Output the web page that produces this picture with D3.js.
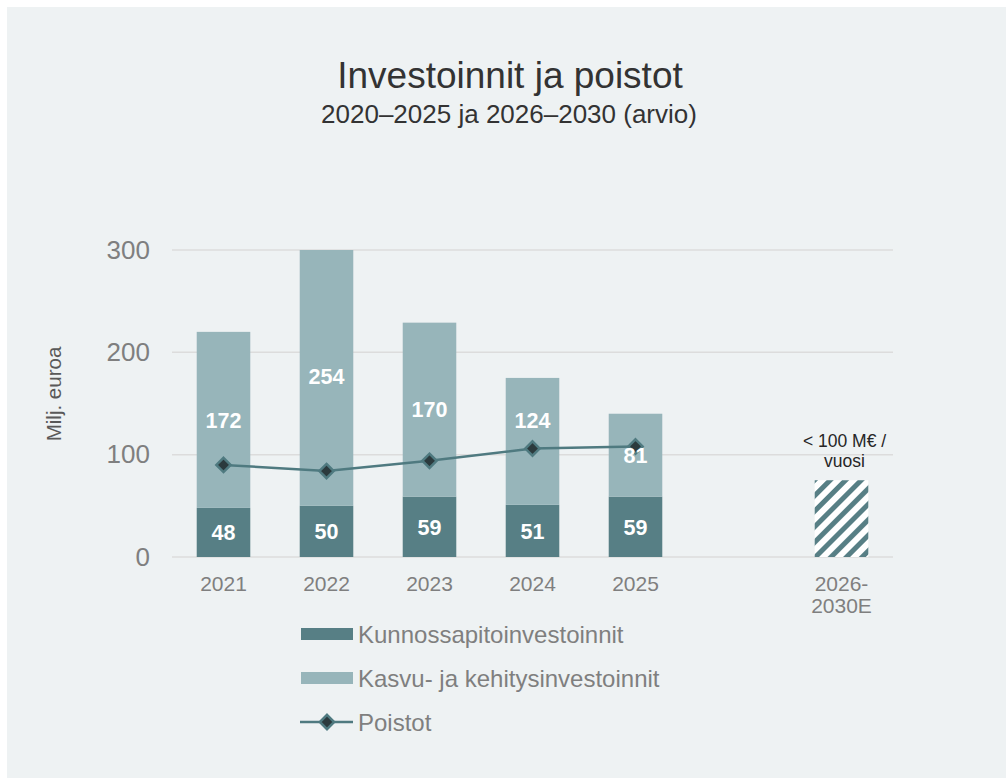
<!DOCTYPE html>
<html>
  <head>
    <meta charset="utf-8">
    <title>Investoinnit ja poistot</title>
    <style>
      body { margin: 0; background: #ffffff; }
      svg { display: block; font-family: "Liberation Sans", Arial, sans-serif; }
    </style>
  </head>
  <body>
    <div id="chart"></div>
    <script src="https://cdn.jsdelivr.net/npm/d3@7"></script>
    <script>
      var categories = ['2021', '2022', '2023', '2024', '2025', '', '2026-2030E'];
      var years = ['2021', '2022', '2023', '2024', '2025'];
      var kunnossapito = [48, 50, 59, 51, 59];
      var kasvu = [172, 254, 170, 124, 81];
      var poistot = [90, 84, 94, 106, 108];
      var estimateCategory = '2026-2030E';
      var estimateValue = 75;
      var estimateLabel = ['< 100 M€ /', 'vuosi'];
      var yTicks = [0, 100, 200, 300];

      (function(d3) {
        'use strict';
        var width = 1006, height = 778;
        var darkColor = '#577f85', lightColor = '#97b5ba', lineColor = '#4f7a80';
        var font = '"Liberation Sans", Arial, sans-serif';

        var svg = d3.select('#chart').append('svg')
          .attr('width', width)
          .attr('height', height);

        svg.append('rect')
          .attr('x', 7).attr('y', 7)
          .attr('width', width - 7).attr('height', height - 7)
          .attr('fill', '#eef2f3');

        var defs = svg.append('defs');
        var pat = defs.append('pattern')
          .attr('id', 'hatch')
          .attr('patternUnits', 'userSpaceOnUse')
          .attr('width', 11).attr('height', 11)
          .attr('patternTransform', 'rotate(45)');
        pat.append('rect').attr('width', 11).attr('height', 11).attr('fill', '#ffffff');
        pat.append('rect').attr('width', 5).attr('height', 11).attr('fill', darkColor);

        var plot = { left: 172, right: 893, top: 250, bottom: 557 };

        defs.append('clipPath').attr('id', 'plotclip')
          .append('rect')
          .attr('x', plot.left).attr('y', plot.top)
          .attr('width', plot.right - plot.left)
          .attr('height', plot.bottom - plot.top + 1);

        svg.append('text')
          .attr('x', 510).attr('y', 88)
          .attr('text-anchor', 'middle')
          .attr('font-size', 37)
          .attr('fill', '#333333')
          .text('Investoinnit ja poistot');
        svg.append('text')
          .attr('x', 509).attr('y', 123)
          .attr('text-anchor', 'middle')
          .attr('font-size', 26)
          .attr('fill', '#333333')
          .text('2020–2025 ja 2026–2030 (arvio)');

        var x = d3.scaleBand()
          .domain(categories)
          .range([plot.left, plot.right])
          .paddingInner(0.48)
          .paddingOuter(0.24);

        var y = d3.scaleLinear()
          .domain([0, 300])
          .range([plot.bottom, plot.top]);

        // gridlines
        svg.append('g')
          .selectAll('line')
          .data(yTicks)
          .enter().append('line')
          .attr('x1', plot.left).attr('x2', plot.right)
          .attr('y1', function(d) { return y(d); })
          .attr('y2', function(d) { return y(d); })
          .attr('stroke', '#dcdcdc')
          .attr('stroke-width', 1.5);

        var yAxis = svg.append('g')
          .attr('transform', 'translate(150,0)')
          .call(d3.axisLeft(y).tickValues(yTicks).tickSize(0).tickPadding(0));
        yAxis.select('.domain').remove();
        yAxis.selectAll('text')
          .attr('font-size', 26)
          .attr('fill', '#7f7f7f')
          .attr('font-family', font);

        svg.append('text')
          .attr('transform', 'translate(61,' + 394 + ') rotate(-90)')
          .attr('text-anchor', 'middle')
          .attr('font-size', 20.5)
          .attr('fill', '#595959')
          .text('Milj. euroa');

        var xAxis = svg.append('g')
          .attr('transform', 'translate(0,' + (plot.bottom + 19) + ')')
          .call(d3.axisBottom(x).tickSize(0).tickPadding(0));
        xAxis.select('.domain').remove();
        xAxis.selectAll('text')
          .attr('font-size', 21)
          .attr('fill', '#7f7f7f')
          .attr('font-family', font)
          .each(function(d) {
            var t = d3.select(this);
            if (d === estimateCategory) {
              t.text(null);
              t.append('tspan').attr('x', 0).attr('dy', '0.71em').text('2026-');
              t.append('tspan').attr('x', 0).attr('dy', '1.05em').text('2030E');
            }
          });

        var rows = years.map(function(yr, i) {
          return { year: yr, k: kunnossapito[i], g: kasvu[i], p: poistot[i] };
        });

        var bars = svg.append('g').attr('clip-path', 'url(#plotclip)');
        bars.selectAll('.dark')
          .data(rows).enter().append('rect')
          .attr('x', function(d) { return x(d.year); })
          .attr('width', x.bandwidth())
          .attr('y', function(d) { return y(d.k); })
          .attr('height', function(d) { return y(0) - y(d.k); })
          .attr('fill', darkColor);
        bars.selectAll('.light')
          .data(rows).enter().append('rect')
          .attr('x', function(d) { return x(d.year); })
          .attr('width', x.bandwidth())
          .attr('y', function(d) { return y(d.k + d.g); })
          .attr('height', function(d) { return y(d.k) - y(d.k + d.g); })
          .attr('fill', lightColor);

        svg.append('rect')
          .attr('x', x(estimateCategory))
          .attr('width', x.bandwidth())
          .attr('y', y(estimateValue))
          .attr('height', y(0) - y(estimateValue))
          .attr('fill', 'url(#hatch)');

        var estX = x(estimateCategory) + x.bandwidth() / 2 + 3;
        var estText = svg.append('text')
          .attr('x', estX)
          .attr('y', y(estimateValue) - 33)
          .attr('text-anchor', 'middle')
          .attr('font-size', 17.5)
          .attr('fill', '#262626');
        estimateLabel.forEach(function(s, i) {
          estText.append('tspan')
            .attr('x', estX)
            .attr('dy', i === 0 ? 0 : '1.15em')
            .text(s);
        });

        var line = d3.line()
          .x(function(d) { return x(d.year) + x.bandwidth() / 2; })
          .y(function(d) { return y(d.p); });
        svg.append('path')
          .datum(rows)
          .attr('d', line)
          .attr('fill', 'none')
          .attr('stroke', lineColor)
          .attr('stroke-width', 2.5);

        var diamond = d3.symbol().type(d3.symbolDiamond2).size(130);
        svg.append('g').selectAll('path')
          .data(rows).enter().append('path')
          .attr('d', diamond)
          .attr('transform', function(d) {
            return 'translate(' + (x(d.year) + x.bandwidth() / 2) + ',' + y(d.p) + ')';
          })
          .attr('fill', '#2b3a3d')
          .attr('stroke', lineColor)
          .attr('stroke-width', 2.5);

        // data labels (2024 growth label lifted clear of the line, as in the original)
        var labelNudge = { '2024': -21 };
        var lbl = svg.append('g')
          .attr('font-size', 21.5)
          .attr('font-weight', 'bold')
          .attr('fill', '#ffffff')
          .attr('text-anchor', 'middle');
        lbl.selectAll('.kl')
          .data(rows).enter().append('text')
          .attr('x', function(d) { return x(d.year) + x.bandwidth() / 2; })
          .attr('y', function(d) { return y(d.k / 2); })
          .attr('dy', '0.36em')
          .text(function(d) { return d.k; });
        lbl.selectAll('.gl')
          .data(rows).enter().append('text')
          .attr('x', function(d) { return x(d.year) + x.bandwidth() / 2; })
          .attr('y', function(d) { return y(d.k + d.g / 2) + (labelNudge[d.year] || 0); })
          .attr('dy', '0.36em')
          .text(function(d) { return d.g; });

        // legend
        var legend = [
          { name: 'Kunnossapitoinvestoinnit', type: 'bar', color: darkColor },
          { name: 'Kasvu- ja kehitysinvestoinnit', type: 'bar', color: lightColor },
          { name: 'Poistot', type: 'line', color: lineColor }
        ];
        var lg = svg.append('g').attr('transform', 'translate(300,634)');
        var item = lg.selectAll('g').data(legend).enter().append('g')
          .attr('transform', function(d, i) { return 'translate(0,' + (i * 44) + ')'; });
        item.filter(function(d) { return d.type === 'bar'; })
          .append('rect')
          .attr('x', 1).attr('y', -6).attr('width', 52).attr('height', 12)
          .attr('fill', function(d) { return d.color; });
        var li = item.filter(function(d) { return d.type === 'line'; });
        li.append('line')
          .attr('x1', 0).attr('x2', 53).attr('y1', 0).attr('y2', 0)
          .attr('stroke', lineColor).attr('stroke-width', 2.5);
        li.append('path')
          .attr('d', diamond)
          .attr('transform', 'translate(27,0)')
          .attr('fill', '#2b3a3d')
          .attr('stroke', lineColor)
          .attr('stroke-width', 2.5);
        item.append('text')
          .attr('x', 58).attr('dy', '0.36em')
          .attr('font-size', 24)
          .attr('fill', '#7f7f7f')
          .text(function(d) { return d.name; });
      })(window.d3);
    </script>
  </body>
</html>
